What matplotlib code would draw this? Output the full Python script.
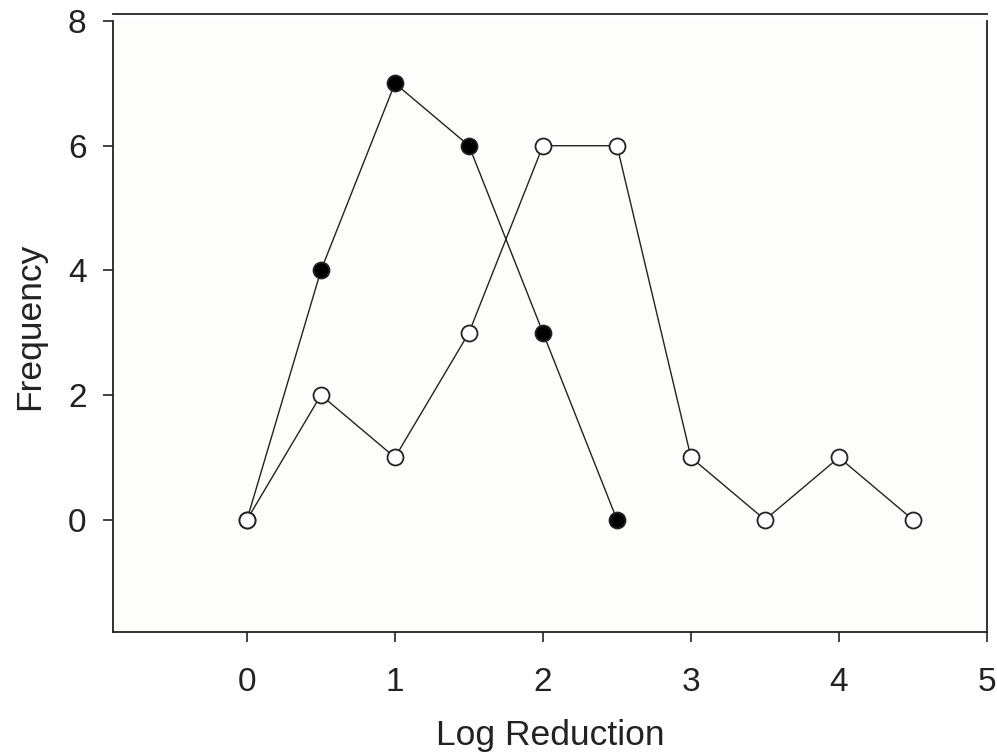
import matplotlib
matplotlib.use("Agg")
import matplotlib.pyplot as plt

plt.rcParams['font.family'] = ['Liberation Sans', 'DejaVu Sans']

x_filled = [0, 0.5, 1, 1.5, 2, 2.5]
y_filled = [0, 4, 7, 6, 3, 0]
x_open = [0, 0.5, 1, 1.5, 2, 2.5, 3, 3.5, 4, 4.5]
y_open = [0, 2, 1, 3, 6, 6, 1, 0, 1, 0]
x_ticks = [0, 1, 2, 3, 4, 5]
y_ticks = [0, 2, 4, 6, 8]

fig = plt.figure(figsize=(9.97, 7.56), dpi=100)
ax = fig.add_axes([113/997, 1-632/756, (987-113)/997, (632-21)/756])
ax.set_facecolor('#fdfdfb')

ax.plot(x_filled, y_filled, color='#222222', lw=1.0, marker='o', ms=11.5,
        mfc='black', mec='#222222', mew=1.3, zorder=3)
ax.plot(x_open, y_open, color='#222222', lw=1.0, marker='o', ms=11.5,
        mfc='white', mec='#222222', mew=1.3, zorder=3)

ax.set_xlim(-0.905, 5)
ax.set_ylim(-1.8, 8)
ax.set_xticks(x_ticks)
ax.set_yticks(y_ticks)
ax.tick_params(direction='out', length=7, width=1.2, labelsize=24, colors='#222222')
ax.tick_params(axis='x', pad=18.5)
ax.tick_params(axis='y', pad=12)
for s in ax.spines.values():
    s.set_linewidth(1.3)
    s.set_color('#222222')
ax.spines['top'].set_position(('outward', 5))

ax.set_xlabel('Log Reduction', fontsize=25.5, labelpad=15, color='#222222')
ax.set_ylabel('Frequency', fontsize=25.5, labelpad=16, color='#222222')

fig.savefig('out.png', dpi=100)
